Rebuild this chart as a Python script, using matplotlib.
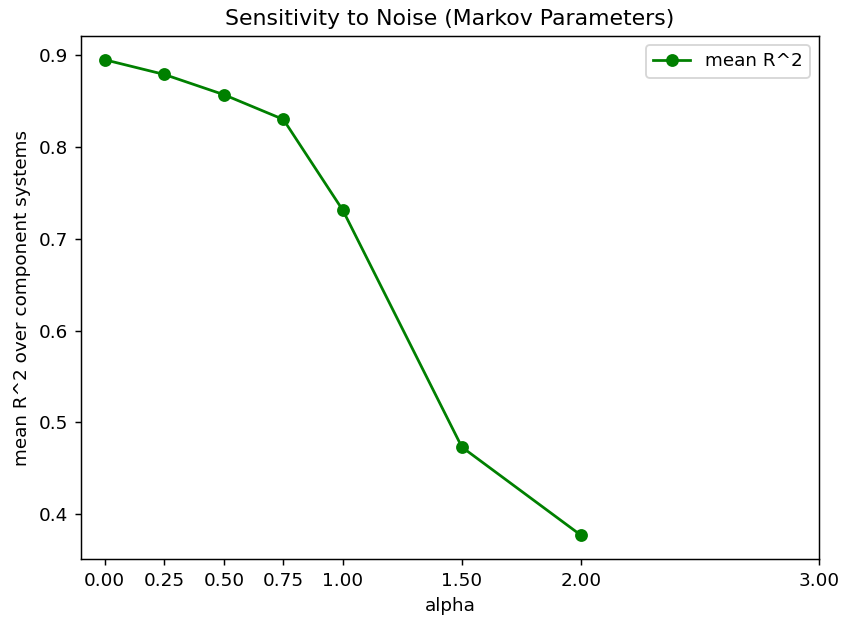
import matplotlib
matplotlib.use("Agg")
import matplotlib.pyplot as plt

alpha = [0.0, 0.25, 0.5, 0.75, 1.0, 1.5, 2.0]
mean_r2 = [0.895, 0.879, 0.857, 0.830, 0.731, 0.473, 0.377]
xticks = [0.0, 0.25, 0.5, 0.75, 1.0, 1.5, 2.0, 3.0]

fig = plt.figure(figsize=(846 / 132, 619 / 132), dpi=132)
ax = fig.add_axes([81 / 846, 1 - 559 / 619, (819 - 81) / 846, (559 - 36) / 619])
ax.plot(alpha, mean_r2, marker="o", color="green", label="mean R^2")
ax.set_xticks(xticks)
ax.set_xticklabels([f"{t:.2f}" for t in xticks])
ax.set_xlabel("alpha")
ax.set_ylabel("mean R^2 over component systems")
ax.set_title("Sensitivity to Noise (Markov Parameters)")
ax.legend(loc="upper right")
fig.savefig("out.png", dpi=132)
